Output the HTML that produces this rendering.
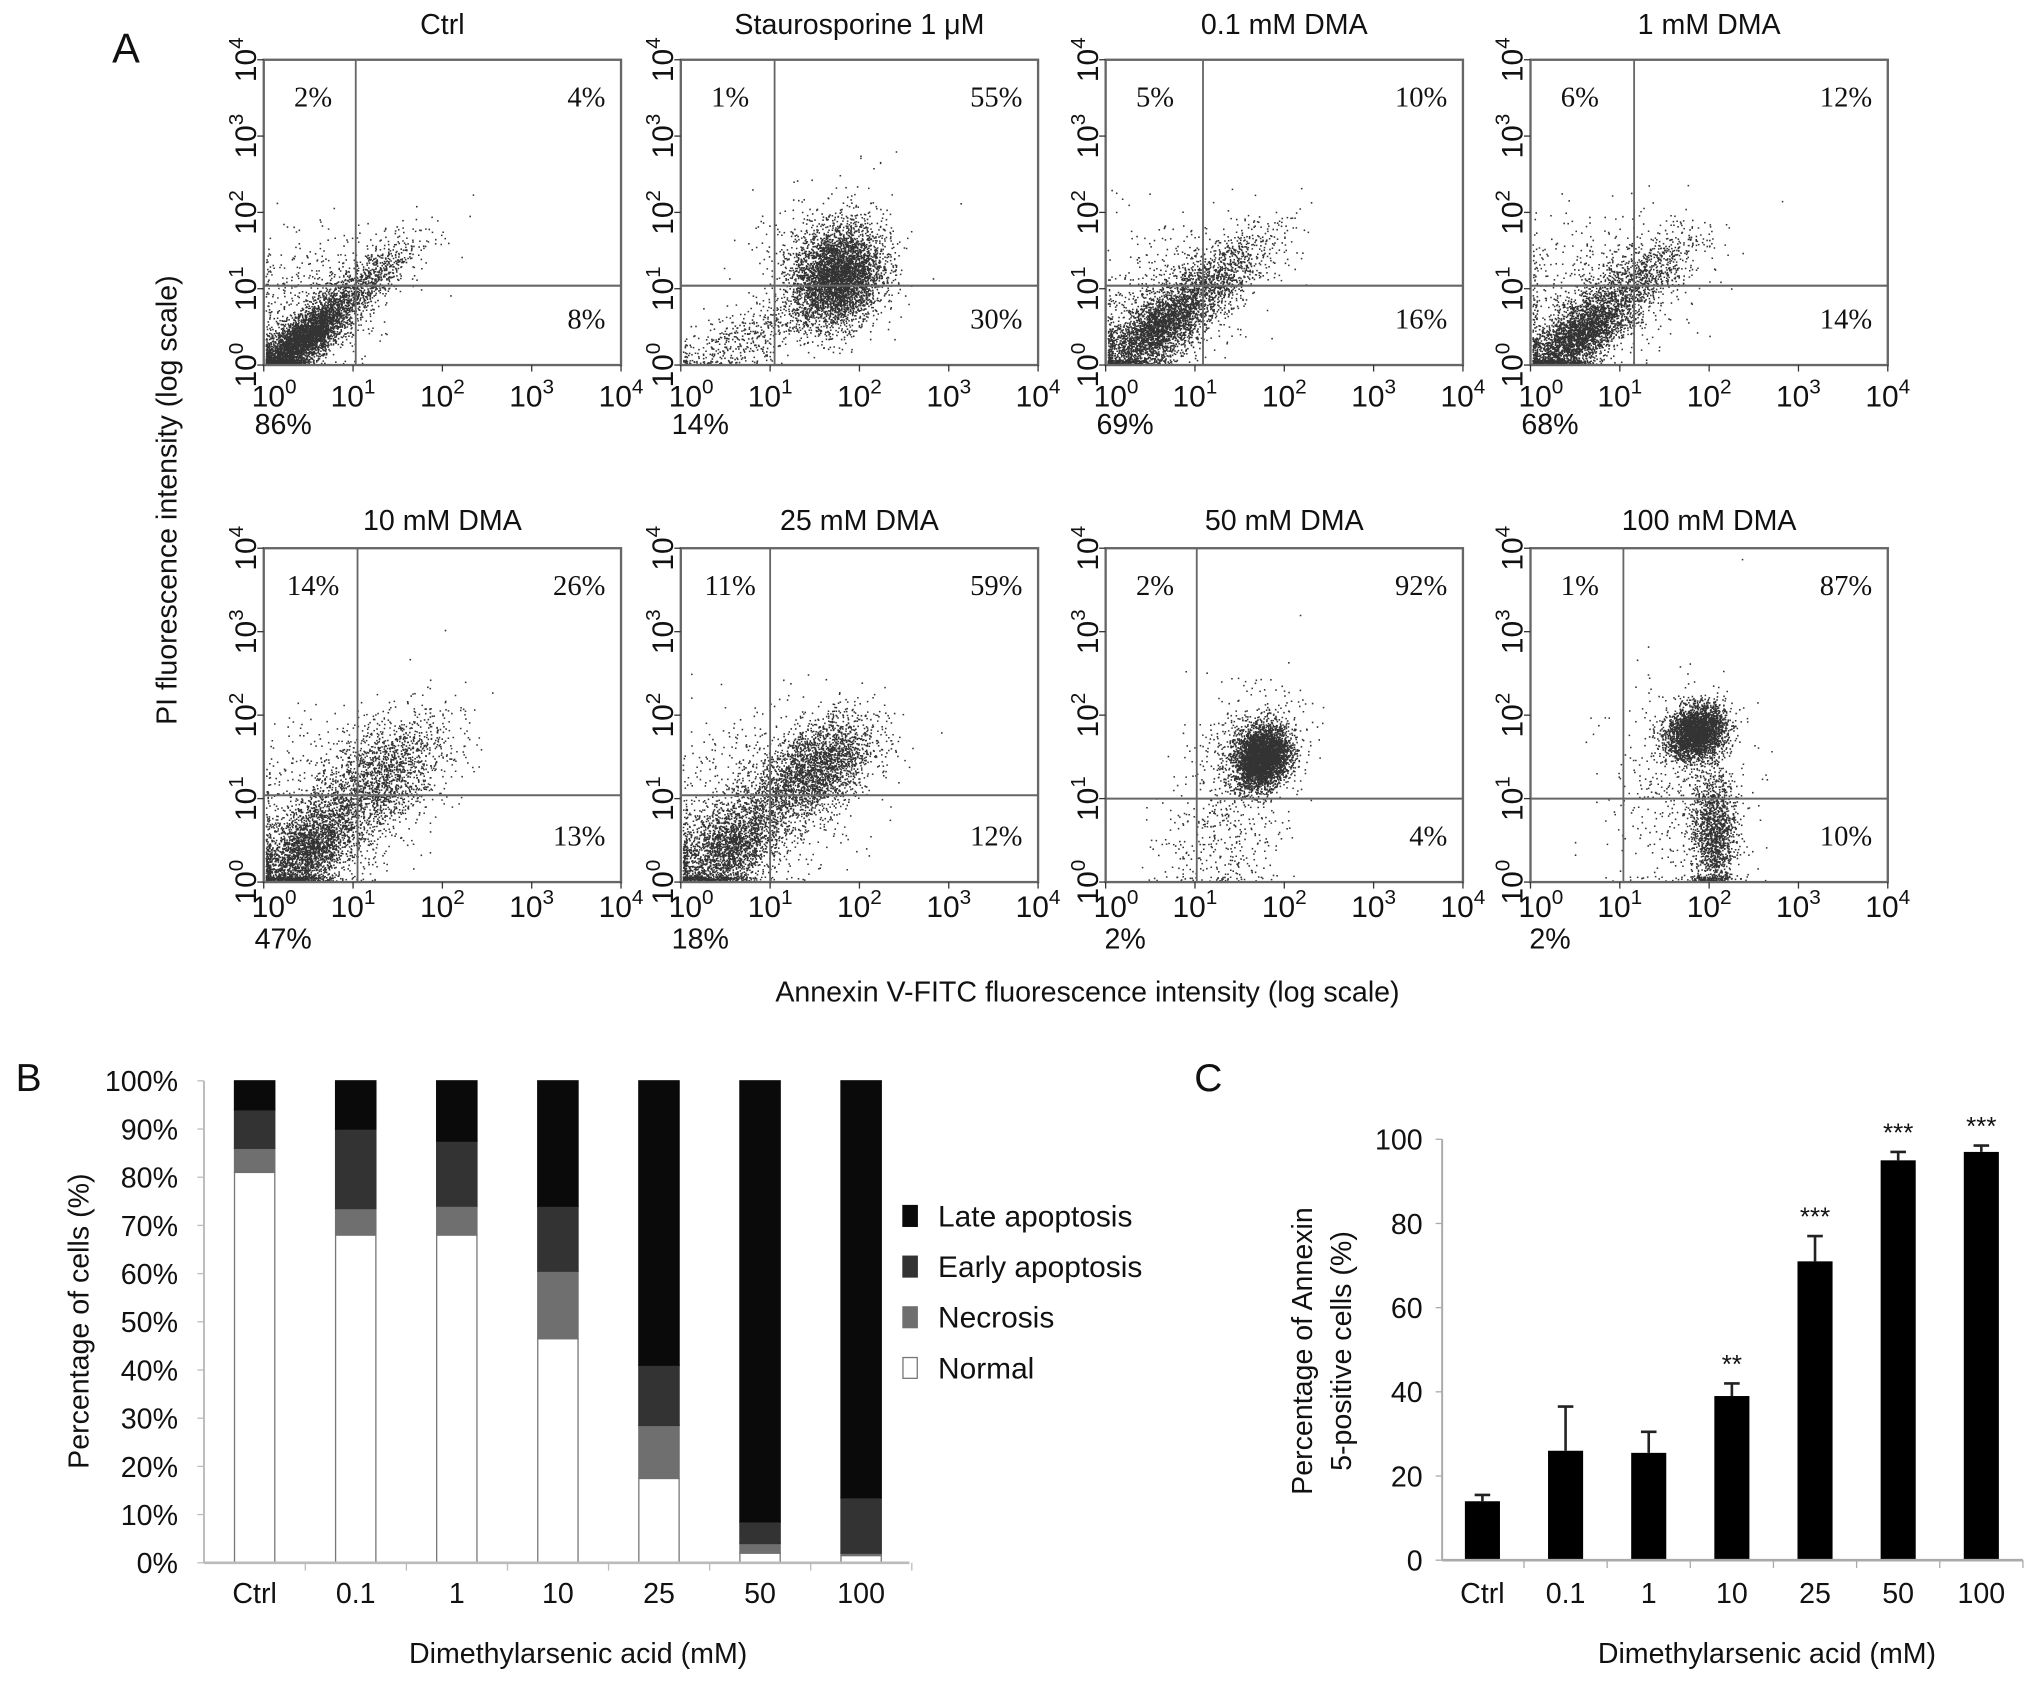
<!DOCTYPE html>
<html><head><meta charset="utf-8"><style>
html,body{margin:0;padding:0;background:#fff}
svg{display:block}
text{font-family:"Liberation Sans",sans-serif;fill:#111}
.serif{font-family:"Liberation Serif",serif}
</style></head><body>
<svg id="fig" width="2032" height="1681" viewBox="0 0 1564 1294" preserveAspectRatio="none">
<g id="panelA"></g>
<g id="panelB"></g>
<g id="panelC"></g>
</svg>
<script>
// ---------- Panel A data ----------
const flowTitles = ["Ctrl","Staurosporine 1 \u03bcM","0.1 mM DMA","1 mM DMA","10 mM DMA","25 mM DMA","50 mM DMA","100 mM DMA"];
const quadUL = ["2%","1%","5%","6%","14%","11%","2%","1%"];
const quadUR = ["4%","55%","10%","12%","26%","59%","92%","87%"];
const quadLR = ["8%","30%","16%","14%","13%","12%","4%","10%"];
const quadLL = ["86%","14%","69%","68%","47%","18%","2%","2%"];
const gateX = [1.03,1.05,1.09,1.16,1.05,1.0,1.02,1.04];
const gateY = [1.04,1.04,1.04,1.04,1.04,1.04,1.0,1.0];
// clusters: [centerX(decades), centerY, sdX, sdY, correlation, count]
const clusters = [
 [[0.4,0.3,0.25,0.24,0.75,3500],[1.0,0.95,0.35,0.35,0.85,1100],[0.6,0.9,0.45,0.45,0.3,500]],
 [[1.75,1.15,0.25,0.33,0.2,4000],[0.7,0.35,0.4,0.25,0.6,450],[1.6,1.5,0.4,0.4,0.2,400]],
 [[0.55,0.45,0.3,0.28,0.6,3000],[1.15,1.05,0.38,0.38,0.8,1200],[0.8,1.0,0.55,0.5,0.3,500]],
 [[0.5,0.35,0.27,0.26,0.6,2800],[1.1,1.0,0.4,0.4,0.8,1300],[0.7,1.0,0.55,0.5,0.2,500]],
 [[0.45,0.35,0.28,0.3,0.5,2700],[1.3,1.25,0.38,0.38,0.5,1800],[0.7,0.9,0.5,0.5,0.2,600]],
 [[0.5,0.4,0.3,0.33,0.5,2400],[1.5,1.35,0.33,0.33,0.5,2500],[0.8,1.0,0.55,0.55,0.2,600]],
 [[1.75,1.5,0.15,0.18,0.2,3800],[1.6,1.6,0.3,0.35,0.2,500],[1.3,0.55,0.35,0.4,0.1,350]],
 [[1.85,1.8,0.16,0.16,0.2,3000],[2.05,0.6,0.13,0.4,0.0,1500],[1.6,1.2,0.4,0.6,0.1,400]]
];
// ---------- Panel B data ----------
const catsB = ["Ctrl","0.1","1","10","25","50","100"];
const normal = [81,68,68,46.5,17.5,2,1.5];
const necrosis = [5,5.5,6,14,11,2,0.5];
const early = [8,16.5,13.5,13.5,12.5,4.5,11.5];
const late = [6,10,12.5,26,59,91.5,86.5];
const ticksB = ["0%","10%","20%","30%","40%","50%","60%","70%","80%","90%","100%"];
// ---------- Panel C data ----------
const catsC = ["Ctrl","0.1","1","10","25","50","100"];
const annexin = [14,26,25.5,39,71,95,97];
const annexinErr = [1.5,10.5,5,3,6,2,1.5];
const stars = ["","","","**","***","***","***"];
const ticksC = [0,20,40,60,80,100];

const NS="http://www.w3.org/2000/svg";
function mk(tag,attrs,parent,txt){const e=document.createElementNS(NS,tag);for(const k in attrs)e.setAttribute(k,attrs[k]);if(txt!==undefined)e.textContent=txt;parent.appendChild(e);return e;}

let seed=12345;function rnd(){seed=(seed*1103515245+12345)%2147483648;return seed/2147483648;}
function gauss(){let u=rnd()||1e-9,v=rnd();return Math.sqrt(-2*Math.log(u))*Math.cos(2*Math.PI*v);}

const A=document.getElementById('panelA');
const colL=[203,524,851,1178], W=275;
const rows=[{top:46,bot:281,title:18,tick:304,ll:326},{top:422,bot:679,title:400,tick:697,ll:722}];

let lbl=mk('text',{x:97,y:48,'font-size':32,'text-anchor':'middle'},A,'A');


for(let i=0;i<8;i++){
  const r=rows[Math.floor(i/4)], L=colL[i%4], H=r.bot-r.top;
  const sx=d=>L+d/4*W, sy=d=>r.bot-d/4*H;
  const g=mk('g',{},A);
  
  
  const t=mk('text',{x:L+W/2,y:r.title+8,'font-size':22,'text-anchor':'middle'},g,flowTitles[i]);
  
  let d='';
  for(const c of clusters[i]){
    for(let k=0;k<c[5];k++){
      const z1=gauss(),z2=gauss();
      let x=c[0]+c[2]*z1, y=c[1]+c[3]*(c[4]*z1+Math.sqrt(1-c[4]*c[4])*z2);
      if(x<0.02)x=0.02+rnd()*0.05; if(y<0.02)y=0.02+rnd()*0.05;
      if(x>3.95||y>3.95)continue;
      d+='M'+sx(x).toFixed(1)+' '+sy(y).toFixed(1)+'h1.2v1.2h-1.2z';
    }
  }
  const p=mk('path',{d:d,fill:'#000','fill-opacity':0.8},g);
  
  mk('rect',{x:L,y:r.top,width:W,height:H,fill:'none',stroke:'#666','stroke-width':1.8},g);
  mk('line',{x1:sx(gateX[i]),x2:sx(gateX[i]),y1:r.top,y2:r.bot,stroke:'#666','stroke-width':1.4},g);
  mk('line',{x1:L,x2:L+W,y1:sy(gateY[i]),y2:sy(gateY[i]),stroke:'#666','stroke-width':1.6},g);
  for(let k=0;k<=4;k++){
    mk('line',{x1:sx(k),x2:sx(k),y1:r.bot,y2:r.bot+5,stroke:'#333'},g);
    mk('line',{x1:L-5,x2:L,y1:sy(k),y2:sy(k),stroke:'#333'},g);
    const tx=mk('text',{x:sx(k)+(k==0?8:0),y:r.tick+9,'font-size':23,'text-anchor':'middle'},g);
    tx.appendChild(document.createTextNode('10'));
    mk('tspan',{dy:-10,'font-size':16},tx,String(k));
    
    const yy=sy(k);
    const ty=mk('text',{x:0,y:0,'font-size':23,'text-anchor':'middle',transform:`translate(${L-6},${yy}) rotate(-90)`},g);
    ty.appendChild(document.createTextNode('10'));
    mk('tspan',{dy:-10,'font-size':16},ty,String(k));
    
  }
  const q=[[L+38,r.top+36,quadUL[i],'middle'],[L+W-12,r.top+36,quadUR[i],'end'],[L+W-12,r.bot-28,quadLR[i],'end']];
  for(const a of q){const e=mk('text',{x:a[0],y:a[1],'font-size':22,'text-anchor':a[3],class:'serif'},g,a[2]);
    }
  const ll=mk('text',{x:L+15,y:r.ll+8,'font-size':22,'text-anchor':'middle'},g,quadLL[i]);
  
}
let at=mk('text',{x:837,y:771,'font-size':22,'text-anchor':'middle'},A,'Annexin V-FITC fluorescence intensity (log scale)');

at=mk('text',{x:0,y:0,'font-size':22,'text-anchor':'middle',transform:'translate(136,385) rotate(-90)'},A,'PI fluorescence intensity (log scale)');


// ---------- Panel B ----------
const B=document.getElementById('panelB');
const bx0=157,bx1=700,by0=1203,by100=832,bw=31;
const yB=v=>by0-(v/100)*(by0-by100);
const xB=i=>196+i*77.8;
lbl=mk('text',{x:22,y:840,'font-size':30,'text-anchor':'middle'},B,'B');

mk('line',{x1:bx0,x2:bx0,y1:by100,y2:by0,stroke:'#bbb','stroke-width':1.5},B);
ticksB.forEach((t,k)=>{const y=yB(k*10);
  mk('line',{x1:bx0-5,x2:bx0,y1:y,y2:y,stroke:'#bbb'},B);
  const e=mk('text',{x:bx0-20,y:y+8,'font-size':22,'text-anchor':'end'},B,t);
  });
const seriesB=[[normal,'#fff','normal'],[necrosis,'#6f6f6f','necrosis'],[early,'#333','early-apoptosis'],[late,'#0a0a0a','late-apoptosis']];
catsB.forEach((c,i)=>{
  let base=0;
  for(const s of seriesB){
    const v=s[0][i];
    const r=mk('rect',{x:xB(i)-bw/2,y:yB(base+v),width:bw,height:yB(base)-yB(base+v),fill:s[1],stroke:s[1]=='#fff'?'#777':s[1],'stroke-width':1},B);
    
    base+=v;
  }
  const e=mk('text',{x:xB(i),y:1234,'font-size':22,'text-anchor':'middle'},B,c);
  
  mk('line',{x1:xB(i)+39,x2:xB(i)+39,y1:by0,y2:by0+6,stroke:'#bbb'},B);
});
mk('line',{x1:bx0,x2:bx1,y1:by0,y2:by0,stroke:'#bbb','stroke-width':2},B);
const legB=[['Late apoptosis','#0a0a0a'],['Early apoptosis','#333'],['Necrosis','#6f6f6f'],['Normal','#fff']];
legB.forEach((l,k)=>{const y=936+k*39;
  const g=mk('g',{},B);
  mk('rect',{x:695,y:y-8,width:11,height:16,fill:l[1],stroke:l[1]=='#fff'?'#777':l[1]},g);
  mk('text',{x:722,y:y+8,'font-size':23},g,l[0]);});
at=mk('text',{x:445,y:1280,'font-size':22,'text-anchor':'middle'},B,'Dimethylarsenic acid (mM)');

at=mk('text',{x:0,y:0,'font-size':22,'text-anchor':'middle',transform:'translate(68,1017) rotate(-90)'},B,'Percentage of cells (%)');


// ---------- Panel C ----------
const C=document.getElementById('panelC');
const cx0=1110,cx1=1557,cy0=1201,cy100=877,cw=27;
const yC=v=>cy0-(v/100)*(cy0-cy100);
const xC=i=>1141+i*64;
lbl=mk('text',{x:930,y:840,'font-size':30,'text-anchor':'middle'},C,'C');

mk('line',{x1:cx0,x2:cx0,y1:cy100,y2:cy0,stroke:'#aaa','stroke-width':1.5},C);
ticksC.forEach(t=>{const y=yC(t);
  mk('line',{x1:cx0-5,x2:cx0,y1:y,y2:y,stroke:'#aaa'},C);
  const e=mk('text',{x:cx0-15,y:y+8,'font-size':22,'text-anchor':'end'},C,String(t));
  });
catsC.forEach((c,i)=>{
  const v=annexin[i],e=annexinErr[i],x=xC(i);
  const r=mk('rect',{x:x-cw/2,y:yC(v),width:cw,height:cy0-yC(v),fill:'#000'},C);
  
  const eb=mk('path',{d:`M${x} ${yC(v)}V${yC(v+e)}M${x-6} ${yC(v+e)}H${x+6}`,stroke:'#222','stroke-width':2,fill:'none'},C);
  
  if(stars[i]){const s=mk('text',{x:x,y:yC(v+e)-8,'font-size':20,'text-anchor':'middle',fill:'#333'},C,stars[i]);
    }
  const t=mk('text',{x:x,y:1234,'font-size':22,'text-anchor':'middle'},C,c);
  
  mk('line',{x1:x+32,x2:x+32,y1:cy0,y2:cy0+6,stroke:'#aaa'},C);
});
mk('line',{x1:cx0,x2:cx1,y1:cy0,y2:cy0,stroke:'#aaa','stroke-width':2},C);
at=mk('text',{x:1360,y:1280,'font-size':22,'text-anchor':'middle'},C,'Dimethylarsenic acid (mM)');

at=mk('text',{x:0,y:0,'font-size':22,'text-anchor':'middle',transform:'translate(1010,1040) rotate(-90)'},C,'Percentage of Annexin');

at=mk('text',{x:0,y:0,'font-size':22,'text-anchor':'middle',transform:'translate(1040,1040) rotate(-90)'},C,'5-positive cells (%)');

</script>
</body></html>
